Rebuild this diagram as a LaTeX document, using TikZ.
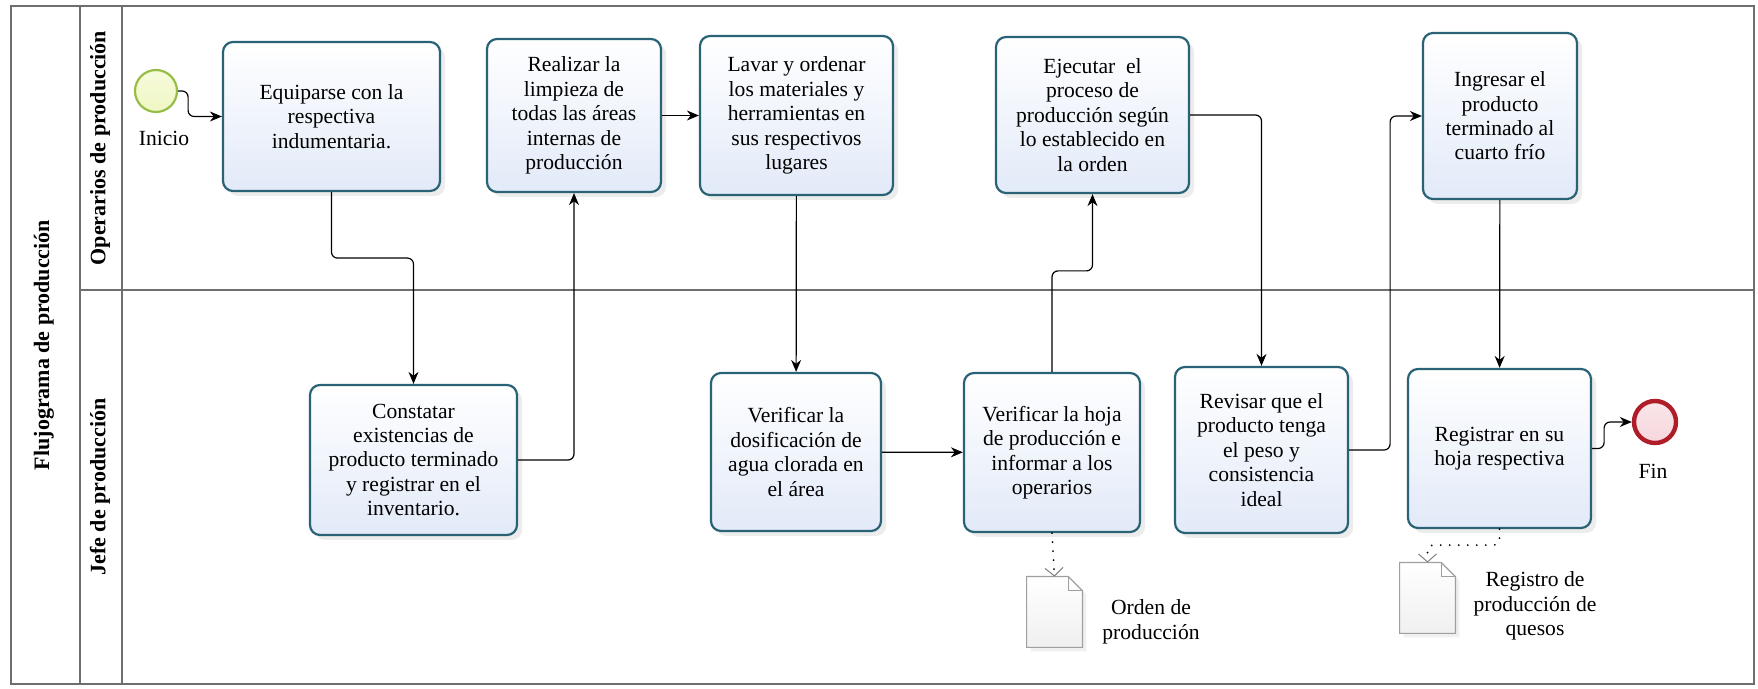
\documentclass[tikz,border=0pt]{standalone}
\usepackage{fontspec}
\setmainfont{Liberation Serif}
\usetikzlibrary{arrows.meta}
\usetikzlibrary{shadows}
\definecolor{taskline}{RGB}{42,98,118}
\definecolor{taskfill}{RGB}{226,234,248}
\definecolor{startline}{RGB}{150,190,70}
\definecolor{startfill}{RGB}{240,247,196}
\definecolor{endline}{RGB}{175,30,40}
\definecolor{endfill}{RGB}{246,214,220}
\definecolor{laneline}{RGB}{110,110,110}
\newcommand{\boxfont}{\rmfamily\fontsize{10.8}{12.2}\selectfont}

\begin{document}
\begin{tikzpicture}[x=0.5pt, y=-0.5pt,
  task/.style={rectangle, rounded corners=5pt, draw=taskline, line width=1.1pt,
    top color=white, bottom color=taskfill, align=center, inner sep=2pt,
    font=\boxfont, drop shadow={opacity=0.15, shadow xshift=2.5pt, shadow yshift=-2.5pt}},
  evstart/.style={circle, minimum size=21pt, inner sep=0pt, draw=startline,
    line width=1.1pt, top color=startfill!60, bottom color=startfill},
  evend/.style={circle, minimum size=21pt, inner sep=0pt, draw=endline,
    line width=2.2pt, top color=endfill!60, bottom color=endfill},
  doc/.style={rectangle, minimum width=27.5pt, minimum height=35pt, inner sep=0pt},
  docbody/.style={draw=gray!75, line width=0.6pt, top color=white, bottom color=gray!12,
    drop shadow={opacity=0.12, shadow xshift=2pt, shadow yshift=-2pt}},
  docfold/.style={draw=gray!75, line width=0.6pt},
  lbl/.style={align=center, font=\boxfont},
  lanetitle/.style={rotate=90, font=\rmfamily\fontsize{11}{13}\selectfont\bfseries},
  lane/.style={draw=laneline, line width=0.75pt},
  arr/.style={-{Stealth[length=6pt, width=5pt]}, line width=0.6pt, rounded corners=3pt},
  assoc/.style={-{Straight Barb[length=4pt, width=9pt, line width=0.5pt, color=gray]},
    line width=1pt, dash pattern=on 0.01pt off 4.5pt, line cap=round, rounded corners=3pt}
]
  \useasboundingbox (0,0) rectangle (1758,689);

  \draw[lane] (11,6) rectangle (1754,684);
  \draw[lane] (80,6) -- (80,684);
  \draw[lane] (122,6) -- (122,684);
  \draw[lane] (80,290) -- (1754,290);
  \node[lanetitle] (pool) at (44,345) {Flujograma de producción};
  \node[lanetitle] (operarios) at (100,148) {Operarios de producción};
  \node[lanetitle] (jefe) at (100,487) {Jefe de producción};

  \node[evstart] (inicio) at (156,91) {};
  \node[lbl] (tinicio) at (164,138) {Inicio};
  \node[task, minimum width=108.5pt, minimum height=74.5pt] (equip) at (331.5,116.5)
    {Equiparse con la\\respectiva\\indumentaria.};
  \node[task, minimum width=87pt, minimum height=76.5pt] (limp) at (574,115.5)
    {Realizar la\\limpieza de\\todas las áreas\\internas de\\producción};
  \node[task, minimum width=96.5pt, minimum height=79.5pt] (lavar) at (796.5,115.5)
    {Lavar y ordenar\\los materiales y\\herramientas en\\sus respectivos\\lugares};
  \node[task, minimum width=96.5pt, minimum height=78pt] (ejec) at (1092.5,115)
    {Ejecutar\ \ el\\proceso de\\producción según\\lo establecido en\\la orden};
  \node[task, minimum width=77pt, minimum height=83pt] (ingr) at (1500,116)
    {Ingresar el\\producto\\terminado al\\cuarto frío};
  \node[task, minimum width=103.5pt, minimum height=75pt] (const) at (413.5,460)
    {Constatar\\existencias de\\producto terminado\\y registrar en el\\inventario.};
  \node[task, minimum width=85pt, minimum height=79pt] (dosif) at (796,452)
    {Verificar la\\dosificación de\\agua clorada en\\el área};
  \node[task, minimum width=88pt, minimum height=79.5pt] (hoja) at (1052,452.5)
    {Verificar la hoja\\de producción e\\informar a los\\operarios};
  \node[task, minimum width=86.5pt, minimum height=83pt] (revis) at (1261.5,450)
    {Revisar que el\\producto tenga\\el peso y\\consistencia\\ideal};
  \node[task, minimum width=91.5pt, minimum height=79.5pt] (regis) at (1499.5,448.5)
    {Registrar en su\\hoja respectiva};
  \node[evend] (fin) at (1655,422) {};
  \node[lbl] (tfin) at (1653,471) {Fin};

  \node[doc] (orden) at (1054.5,612) {};
  \draw[docbody] (orden.south west) -- (orden.north west) -- ([xshift=-7pt]orden.north east)
    -- ([yshift=-7pt]orden.north east) -- (orden.south east) -- cycle;
  \draw[docfold] ([xshift=-7pt]orden.north east) |- ([yshift=-7pt]orden.north east);
  \node[lbl] (torden) at (1151,622) {Orden de\\producción};
  \node[doc] (regq) at (1427.5,598) {};
  \draw[docbody] (regq.south west) -- (regq.north west) -- ([xshift=-7pt]regq.north east)
    -- ([yshift=-7pt]regq.north east) -- (regq.south east) -- cycle;
  \draw[docfold] ([xshift=-7pt]regq.north east) |- ([yshift=-7pt]regq.north east);
  \node[lbl] (tregq) at (1535,606) {Registro de\\producción de\\quesos};

  \draw[arr] (inicio.east) -- ++(10,0) |- (equip.west);
  \draw[arr] (equip.south) -- ++(0,66) -| (const.north);
  \draw[arr] (const.east) -| (limp.south);
  \draw[arr] (limp) -- (lavar);
  \draw[arr] (lavar) -- (dosif);
  \draw[arr] (dosif) -- (hoja);
  \draw[arr] (hoja.north) -- ++(0,-101) -| (ejec.south);
  \draw[arr] (ejec.east) -| (revis.north);
  \draw[arr] (revis.east) -- ++(41,0) |- (ingr.west);
  \draw[arr] (ingr) -- (regis);
  \draw[arr] (regis.east) -- ++(12,0) |- (fin.west);
  \draw[assoc] (hoja.south) -- (orden.north);
  \draw[assoc] (regis.south) -- ++(0,16) -| (regq.north);
\end{tikzpicture}
\end{document}
